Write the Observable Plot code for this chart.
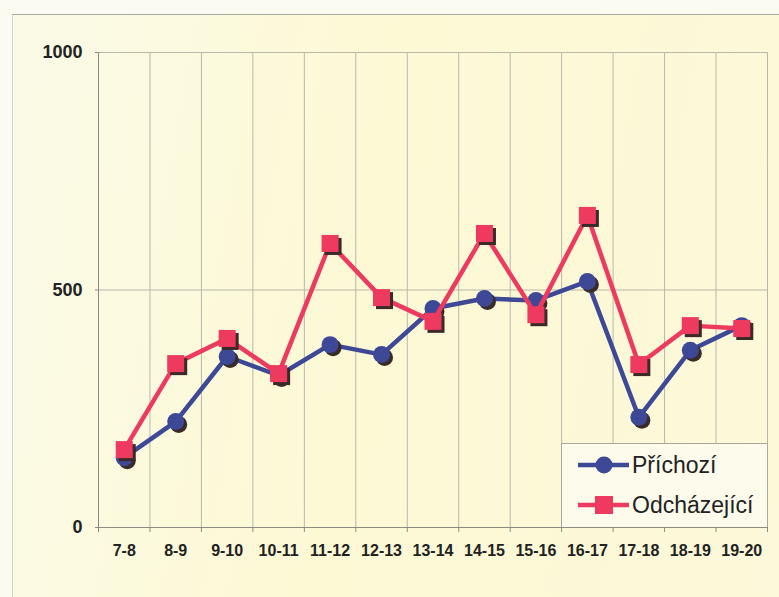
<!DOCTYPE html>
<html lang="cs">
<head>
<meta charset="utf-8">
<script src="https://cdn.jsdelivr.net/npm/d3@7"></script>
<script src="https://cdn.jsdelivr.net/npm/@observablehq/plot@0.6"></script>
<style>
  html, body { margin: 0; padding: 0; background: #fbfbf1; }
  #chart { position: relative; width: 779px; height: 597px; overflow: hidden;
           font-family: "Liberation Sans", Arial, sans-serif; }
  #paper { position: absolute; left: 12px; top: 14px; right: 0; bottom: 0;
           border-top: 1px solid #a9a9a0; border-left: 1px solid #d6d6cc;
           background: linear-gradient(100deg, #fbfae7 0%, #fdf9d5 45%, #fcf8d9 100%); }
  #chart > svg { position: absolute; left: 0; top: 0; }
  #chart > svg [aria-label="x-axis tick label"] { font-size: 16px; }
  #chart > svg [aria-label="y-axis tick label"] { font-size: 18px; }
  #legend { position: absolute; left: 561px; top: 443px; width: 205px; height: 83px;
            border: 1px solid #a9a9a0; border-bottom: none; background: #fdfcec; }
  .entry { position: absolute; height: 30px; display: flex; align-items: center; }
  .entry svg { display: block; }
  .entry span { font-size: 23px; color: #222; margin-left: 2px; line-height: 30px; }
</style>
</head>
<body>
<div id="chart">
  <div id="paper"></div>
</div>
<script>
// Hourly counts of arriving and departing visitors
const hours = ["7-8", "8-9", "9-10", "10-11", "11-12", "12-13", "13-14",
               "14-15", "15-16", "16-17", "17-18", "18-19", "19-20"];
const prichozi    = [147, 223, 360, 320, 385, 364, 461, 482, 478, 518, 232, 373, 425];
const odchazejici = [164, 345, 398, 324, 598, 484, 434, 619, 448, 657, 343, 425, 419];
const yTicks = [0, 500, 1000];

const BLUE = "#3d4896";
const RED = "#ef3a5f";
const SHADOW = "#3a2b28";
const GRID = "#b9b7aa";
const AXIS = "#8c8b82";

const rowsP = hours.map((h, i) => ({i, h, v: prichozi[i]}));
const rowsO = hours.map((h, i) => ({i, h, v: odchazejici[i]}));
const bounds = d3.range(hours.length + 1).map(i => i - 0.5);

const chart = Plot.plot({
  width: 779,
  height: 597,
  marginLeft: 98,
  marginRight: 12,
  marginTop: 52,
  marginBottom: 70,
  style: {background: "transparent", fontFamily: "'Liberation Sans', Arial, sans-serif", overflow: "visible"},
  x: {domain: [-0.5, hours.length - 0.5]},
  y: {domain: [0, 1000]},
  marks: [
    // grid
    Plot.ruleX(bounds, {stroke: GRID, strokeWidth: 1}),
    Plot.ruleY([500, 1000], {stroke: GRID, strokeWidth: 1}),
    Plot.ruleX([-0.5], {stroke: AXIS, strokeWidth: 1}),
    Plot.ruleY([0], {stroke: AXIS, strokeWidth: 1}),
    // axes
    Plot.axisX(bounds, {tickSize: 5, stroke: AXIS, tickFormat: () => "", label: null}),
    Plot.axisX(d3.range(hours.length), {
      tickSize: 0, tickPadding: 17, tickFormat: i => hours[i],
      fontSize: 16, fontWeight: "bold", fill: "#222", label: null
    }),
    Plot.axisY(yTicks, {
      tickSize: 3, stroke: AXIS, tickPadding: 13, fontSize: 18, fontWeight: "bold",
      fill: "#222", tickFormat: d => String(d), label: null
    }),
    // arrivals
    Plot.line(rowsP, {x: "i", y: "v", stroke: BLUE, strokeWidth: 4.5}),
    Plot.dot(rowsP, {x: "i", y: "v", r: 8.5, fill: SHADOW, dx: 3, dy: 3}),
    Plot.dot(rowsP, {x: "i", y: "v", r: 8.5, fill: BLUE}),
    // departures
    Plot.line(rowsO, {x: "i", y: "v", stroke: RED, strokeWidth: 4.5}),
    Plot.dot(rowsO, {x: "i", y: "v", r: 9.6, symbol: "square", fill: SHADOW, dx: 3, dy: 3}),
    Plot.dot(rowsO, {x: "i", y: "v", r: 9.6, symbol: "square", fill: RED})
  ]
});
document.getElementById("chart").appendChild(chart);

// legend box in the lower right corner of the plot
const legend = document.createElement("div");
legend.id = "legend";
const entries = [
  {name: "Příchozí", color: BLUE, shape: "circle", top: 6},
  {name: "Odcházející", color: RED, shape: "square", top: 46}
];
for (const e of entries) {
  const div = document.createElement("div");
  div.className = "entry";
  div.style.top = e.top + "px";
  div.style.left = "15px";
  const marker = e.shape === "circle"
    ? `<circle cx="27" cy="15" r="8.5" fill="${e.color}"/>`
    : `<rect x="18" y="6" width="18" height="18" fill="${e.color}"/>`;
  div.innerHTML = `<svg width="53" height="30"><line x1="1" x2="52" y1="15" y2="15" stroke="${e.color}" stroke-width="4.5"/>${marker}</svg><span>${e.name}</span>`;
  legend.appendChild(div);
}
document.getElementById("chart").appendChild(legend);
</script>
</body>
</html>
